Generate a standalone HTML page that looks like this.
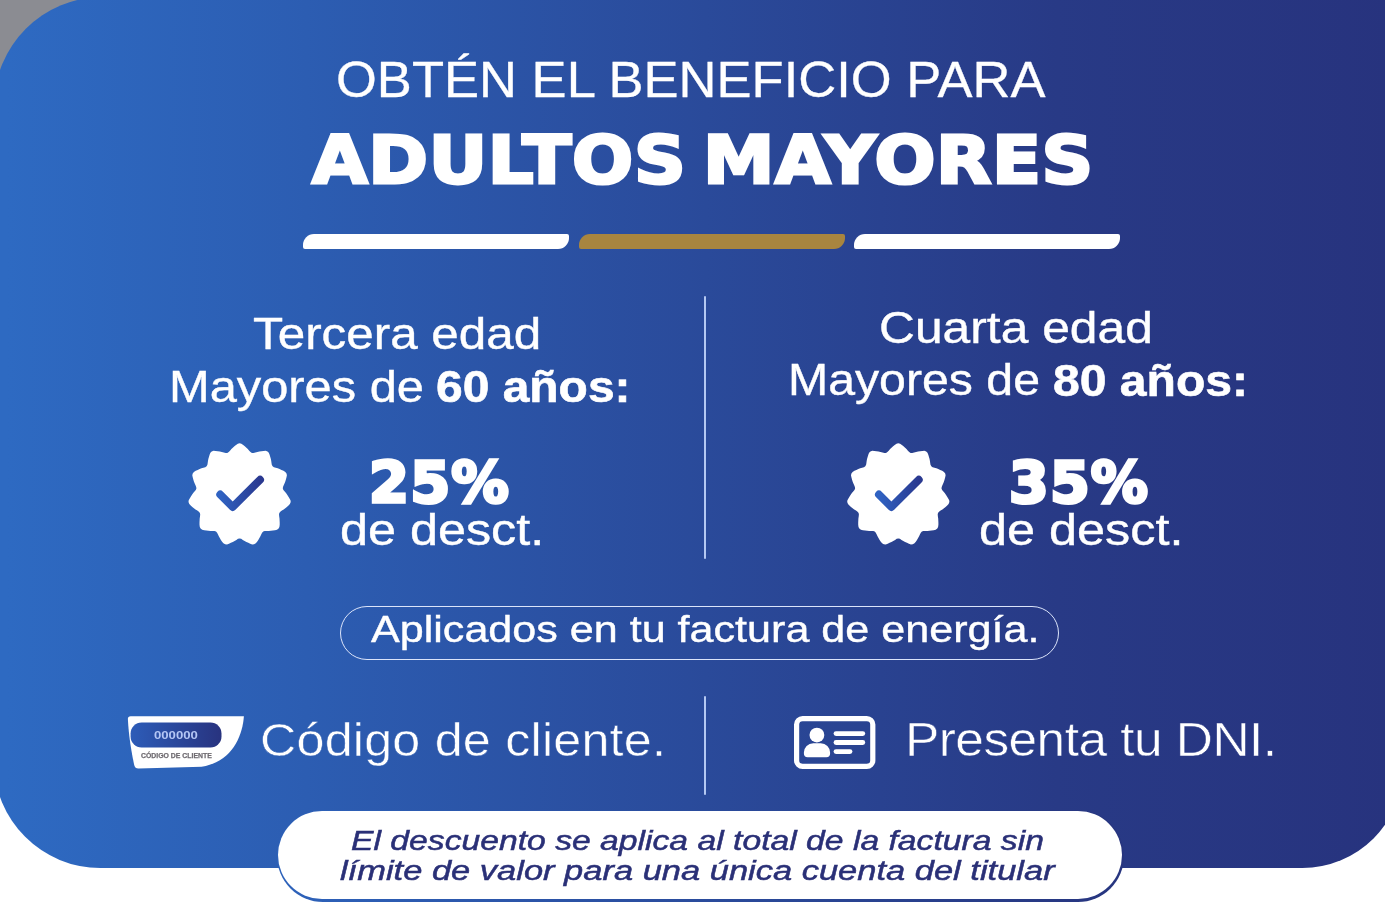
<!DOCTYPE html>
<html lang="es">
<head>
<meta charset="utf-8">
<title>Beneficio para adultos mayores</title>
<style>
html,body{margin:0;padding:0;}
body{width:1385px;height:923px;position:relative;overflow:hidden;background:#fff;font-family:'Liberation Sans', sans-serif;}
#corner{position:absolute;left:0;top:0;width:140px;height:120px;background:#8b8c92;}
#panel{position:absolute;left:-6.5px;top:-3px;width:1409.1px;height:870.7px;border-radius:108.6px 0 100.6px 106.3px;
  background:linear-gradient(90deg,#2e6ac2 12.5px,#2c5db2 312.5px,#2a4a9a 712.5px,#283a86 1062.5px,#27337e 1397.5px);}
.t{position:absolute;white-space:nowrap;line-height:1;transform-origin:0 0;color:#fff;font-family:'Liberation Sans', sans-serif;font-weight:400;}
.t.b{font-weight:700;}
.t.dv{font-family:'DejaVu Sans', 'Liberation Sans', sans-serif;}
.t.i{font-style:italic;}
.bar{position:absolute;top:234.3px;height:14.5px;width:265.7px;background:#fff;border-radius:11px 2px 11px 2px;}
.vline{position:absolute;left:704.3px;width:2px;background:#b4c8f2;border-radius:1px;}
#pill{position:absolute;left:340.4px;top:605.6px;width:718.8px;height:54px;box-sizing:border-box;border:1.9px solid #dbe4fa;border-radius:27px;}
#foot{position:absolute;left:276.9px;top:810.3px;width:846.8px;height:91.3px;box-sizing:border-box;border-radius:46px;
  background:linear-gradient(90deg,#2d62ba,#27357f);}
#foot i{position:absolute;left:0.9px;top:0.3px;right:2px;bottom:2.7px;background:#fff;border-radius:46px;}
svg{position:absolute;left:0;top:0;overflow:visible;}
</style>
</head>
<body>
<div id="corner"></div>
<div id="panel"></div>
<div id="foot"><i></i></div>

<span id="t1" class="t" style="left:335.95px;top:55.80px;font-size:49.94px;transform:scaleX(1.0521);-webkit-text-stroke:0.3px #fff;">OBTÉN EL BENEFICIO PARA</span>
<span id="t2a" class="t b dv" style="left:312.13px;top:127.68px;font-size:66.05px;transform:scaleX(1.0893);letter-spacing:0.600px;-webkit-text-stroke:3.0px #fff;">ADULTOS</span><span id="t2b" class="t b dv" style="left:703.11px;top:127.68px;font-size:66.05px;transform:scaleX(1.0862);letter-spacing:0.600px;-webkit-text-stroke:3.0px #fff;">MAYORES</span>
<div class="bar" style="left:303px"></div>
<div class="bar" style="left:579px;background:#a8853f"></div>
<div class="bar" style="left:854.2px"></div>

<span id="l1" class="t" style="left:253.08px;top:311.52px;font-size:44.47px;transform:scaleX(1.1102);-webkit-text-stroke:0.4px #fff;">Tercera edad</span>
<span id="l2a" class="t" style="left:169.34px;top:364.74px;font-size:44.33px;transform:scaleX(1.1010);-webkit-text-stroke:0.4px #fff;">Mayores de</span><span id="l2b" class="t b" style="left:436.06px;top:364.88px;font-size:44.04px;transform:scaleX(1.0890);-webkit-text-stroke:0.6px #fff;">60 años:</span>
<span id="r1" class="t" style="left:878.98px;top:306.74px;font-size:43.54px;transform:scaleX(1.1430);-webkit-text-stroke:0.4px #fff;">Cuarta edad</span>
<span id="r2a" class="t" style="left:787.68px;top:357.74px;font-size:44.33px;transform:scaleX(1.0880);-webkit-text-stroke:0.4px #fff;">Mayores de</span><span id="r2b" class="t b" style="left:1053.21px;top:358.78px;font-size:44.50px;transform:scaleX(1.0806);-webkit-text-stroke:0.6px #fff;">80 años:</span>

<div class="vline" style="top:295.6px;height:263.3px"></div>
<div class="vline" style="top:696.2px;height:98.6px"></div>

<svg width="1385" height="923" viewBox="0 0 1385 923">
 <defs>
  <linearGradient id="ck" x1="0" y1="0" x2="1" y2="0"><stop offset="0" stop-color="#2f62c2"/><stop offset="1" stop-color="#2a3990"/></linearGradient>
  <linearGradient id="cp" x1="0" y1="0" x2="1" y2="0"><stop offset="0" stop-color="#2d5cb8"/><stop offset="1" stop-color="#28337f"/></linearGradient>
 </defs>
 <g transform="translate(239.6,494.8)">
  <path d="M0.0,-51.6 L1.8,-51.1 L3.6,-49.9 L5.2,-48.5 L6.8,-47.1 L8.2,-45.7 L9.6,-44.1 L10.9,-42.7 L12.3,-41.8 L13.9,-41.8 L15.8,-42.3 L17.8,-42.9 L19.8,-43.3 L21.8,-43.6 L24.0,-43.9 L26.1,-44.0 L27.9,-43.4 L29.2,-42.0 L30.0,-40.1 L30.6,-38.0 L31.2,-36.0 L31.6,-34.0 L31.9,-31.9 L32.2,-30.0 L33.0,-28.6 L34.3,-27.6 L36.2,-27.1 L38.1,-26.5 L40.0,-25.7 L41.9,-24.9 L43.9,-24.0 L45.7,-22.9 L46.9,-21.4 L47.3,-19.6 L46.9,-17.5 L46.3,-15.4 L45.7,-13.4 L45.0,-11.5 L44.1,-9.6 L43.4,-7.8 L43.2,-6.2 L43.8,-4.7 L45.1,-3.2 L46.4,-1.7 L47.6,-0.0 L48.7,1.7 L49.9,3.6 L50.9,5.5 L51.1,7.3 L50.3,9.1 L48.9,10.6 L47.3,12.1 L45.7,13.4 L44.1,14.7 L42.3,15.8 L40.7,16.9 L39.7,18.1 L39.4,19.7 L39.6,21.6 L39.9,23.7 L40.0,25.7 L40.1,27.8 L40.1,30.0 L39.8,32.1 L39.0,33.8 L37.4,34.9 L35.4,35.4 L33.2,35.7 L31.2,36.0 L29.1,36.2 L27.1,36.2 L25.1,36.2 L23.6,36.7 L22.5,37.9 L21.6,39.6 L20.8,41.5 L19.8,43.3 L18.7,45.1 L17.5,46.9 L16.2,48.5 L14.5,49.5 L12.6,49.6 L10.6,48.9 L8.7,48.0 L6.8,47.1 L5.0,46.2 L3.2,45.1 L1.6,44.0 L0.0,43.6 L-1.6,44.0 L-3.2,45.1 L-5.0,46.2 L-6.8,47.1 L-8.7,48.0 L-10.6,48.9 L-12.6,49.6 L-14.5,49.5 L-16.2,48.5 L-17.5,46.9 L-18.7,45.1 L-19.8,43.3 L-20.8,41.5 L-21.6,39.6 L-22.5,37.9 L-23.6,36.7 L-25.1,36.2 L-27.1,36.2 L-29.1,36.2 L-31.2,36.0 L-33.2,35.7 L-35.4,35.4 L-37.4,34.9 L-39.0,33.8 L-39.8,32.1 L-40.1,30.0 L-40.1,27.8 L-40.0,25.7 L-39.9,23.7 L-39.6,21.6 L-39.4,19.7 L-39.7,18.1 L-40.7,16.9 L-42.3,15.8 L-44.1,14.7 L-45.7,13.4 L-47.3,12.1 L-48.9,10.6 L-50.3,9.1 L-51.1,7.3 L-50.9,5.5 L-49.9,3.6 L-48.7,1.7 L-47.6,0.0 L-46.4,-1.7 L-45.1,-3.2 L-43.8,-4.7 L-43.2,-6.2 L-43.4,-7.8 L-44.1,-9.6 L-45.0,-11.5 L-45.7,-13.4 L-46.3,-15.4 L-46.9,-17.5 L-47.3,-19.6 L-46.9,-21.4 L-45.7,-22.9 L-43.9,-24.0 L-41.9,-24.9 L-40.0,-25.7 L-38.1,-26.5 L-36.2,-27.1 L-34.3,-27.6 L-33.0,-28.6 L-32.2,-30.0 L-31.9,-31.9 L-31.6,-34.0 L-31.2,-36.0 L-30.6,-38.0 L-30.0,-40.1 L-29.2,-42.0 L-27.9,-43.4 L-26.1,-44.0 L-24.0,-43.9 L-21.8,-43.6 L-19.8,-43.3 L-17.8,-42.9 L-15.8,-42.3 L-13.9,-41.8 L-12.3,-41.8 L-10.9,-42.7 L-9.6,-44.1 L-8.2,-45.7 L-6.8,-47.1 L-5.2,-48.5 L-3.6,-49.9 L-1.8,-51.1Z" fill="#fff"/>
  <path d="M-19.4,-0.3 L-6.9,12.3 L20.5,-15.1" fill="none" stroke="url(#ck)" stroke-width="7.8" stroke-linecap="round" stroke-linejoin="round"/>
 </g>
 <g transform="translate(898.3,494.8)">
  <path d="M0.0,-51.6 L1.8,-51.1 L3.6,-49.9 L5.2,-48.5 L6.8,-47.1 L8.2,-45.7 L9.6,-44.1 L10.9,-42.7 L12.3,-41.8 L13.9,-41.8 L15.8,-42.3 L17.8,-42.9 L19.8,-43.3 L21.8,-43.6 L24.0,-43.9 L26.1,-44.0 L27.9,-43.4 L29.2,-42.0 L30.0,-40.1 L30.6,-38.0 L31.2,-36.0 L31.6,-34.0 L31.9,-31.9 L32.2,-30.0 L33.0,-28.6 L34.3,-27.6 L36.2,-27.1 L38.1,-26.5 L40.0,-25.7 L41.9,-24.9 L43.9,-24.0 L45.7,-22.9 L46.9,-21.4 L47.3,-19.6 L46.9,-17.5 L46.3,-15.4 L45.7,-13.4 L45.0,-11.5 L44.1,-9.6 L43.4,-7.8 L43.2,-6.2 L43.8,-4.7 L45.1,-3.2 L46.4,-1.7 L47.6,-0.0 L48.7,1.7 L49.9,3.6 L50.9,5.5 L51.1,7.3 L50.3,9.1 L48.9,10.6 L47.3,12.1 L45.7,13.4 L44.1,14.7 L42.3,15.8 L40.7,16.9 L39.7,18.1 L39.4,19.7 L39.6,21.6 L39.9,23.7 L40.0,25.7 L40.1,27.8 L40.1,30.0 L39.8,32.1 L39.0,33.8 L37.4,34.9 L35.4,35.4 L33.2,35.7 L31.2,36.0 L29.1,36.2 L27.1,36.2 L25.1,36.2 L23.6,36.7 L22.5,37.9 L21.6,39.6 L20.8,41.5 L19.8,43.3 L18.7,45.1 L17.5,46.9 L16.2,48.5 L14.5,49.5 L12.6,49.6 L10.6,48.9 L8.7,48.0 L6.8,47.1 L5.0,46.2 L3.2,45.1 L1.6,44.0 L0.0,43.6 L-1.6,44.0 L-3.2,45.1 L-5.0,46.2 L-6.8,47.1 L-8.7,48.0 L-10.6,48.9 L-12.6,49.6 L-14.5,49.5 L-16.2,48.5 L-17.5,46.9 L-18.7,45.1 L-19.8,43.3 L-20.8,41.5 L-21.6,39.6 L-22.5,37.9 L-23.6,36.7 L-25.1,36.2 L-27.1,36.2 L-29.1,36.2 L-31.2,36.0 L-33.2,35.7 L-35.4,35.4 L-37.4,34.9 L-39.0,33.8 L-39.8,32.1 L-40.1,30.0 L-40.1,27.8 L-40.0,25.7 L-39.9,23.7 L-39.6,21.6 L-39.4,19.7 L-39.7,18.1 L-40.7,16.9 L-42.3,15.8 L-44.1,14.7 L-45.7,13.4 L-47.3,12.1 L-48.9,10.6 L-50.3,9.1 L-51.1,7.3 L-50.9,5.5 L-49.9,3.6 L-48.7,1.7 L-47.6,0.0 L-46.4,-1.7 L-45.1,-3.2 L-43.8,-4.7 L-43.2,-6.2 L-43.4,-7.8 L-44.1,-9.6 L-45.0,-11.5 L-45.7,-13.4 L-46.3,-15.4 L-46.9,-17.5 L-47.3,-19.6 L-46.9,-21.4 L-45.7,-22.9 L-43.9,-24.0 L-41.9,-24.9 L-40.0,-25.7 L-38.1,-26.5 L-36.2,-27.1 L-34.3,-27.6 L-33.0,-28.6 L-32.2,-30.0 L-31.9,-31.9 L-31.6,-34.0 L-31.2,-36.0 L-30.6,-38.0 L-30.0,-40.1 L-29.2,-42.0 L-27.9,-43.4 L-26.1,-44.0 L-24.0,-43.9 L-21.8,-43.6 L-19.8,-43.3 L-17.8,-42.9 L-15.8,-42.3 L-13.9,-41.8 L-12.3,-41.8 L-10.9,-42.7 L-9.6,-44.1 L-8.2,-45.7 L-6.8,-47.1 L-5.2,-48.5 L-3.6,-49.9 L-1.8,-51.1Z" fill="#fff"/>
  <path d="M-19.4,-0.3 L-6.9,12.3 L20.5,-15.1" fill="none" stroke="url(#ck)" stroke-width="7.8" stroke-linecap="round" stroke-linejoin="round"/>
 </g>
 <!-- codigo de cliente icon -->
 <path d="M130.6,716.2 H243.9 C242.5,736 232,762 201.6,766.7 L138.6,768.5 Q135,768.6 134.2,765 C131.4,752 128.6,735 127.9,719 Q127.8,716.2 130.6,716.2Z" fill="#fff"/>
 <rect x="130.6" y="722.5" width="90.9" height="24.9" rx="11" fill="url(#cp)"/>
 <!-- DNI icon -->
 <rect x="796.6" y="718.6" width="76.2" height="47.8" rx="6" fill="none" stroke="#fff" stroke-width="5.2"/>
 <circle cx="816.9" cy="735.1" r="7.4" fill="#fff"/>
 <path d="M803.9,752.6 A9.3,9.3 0 0 1 813.2,743.3 H820.8 A9.3,9.3 0 0 1 830.1,752.6 V753.6 A3.7,3.7 0 0 1 826.4,757.3 H807.6 A3.7,3.7 0 0 1 803.9,753.6Z" fill="#fff"/>
 <g stroke="#fff" stroke-width="4.8" stroke-linecap="round">
  <line x1="836" y1="733.6" x2="862.8" y2="733.6"/>
  <line x1="836" y1="742.5" x2="862.8" y2="742.5"/>
  <line x1="836" y1="751.6" x2="850" y2="751.6"/>
 </g>
</svg>

<span id="p1" class="t b dv" style="left:369.25px;top:454.84px;font-size:56.83px;transform:scaleX(1.0103);letter-spacing:1.200px;-webkit-text-stroke:3.4px #fff;">25%</span>
<span id="d1" class="t" style="left:339.57px;top:507.61px;font-size:44.37px;transform:scaleX(1.1346);-webkit-text-stroke:0.4px #fff;">de desct.</span>
<span id="p2" class="t b dv" style="left:1009.26px;top:454.84px;font-size:56.83px;transform:scaleX(1.0043);letter-spacing:1.200px;-webkit-text-stroke:3.4px #fff;">35%</span>
<span id="d2" class="t" style="left:979.03px;top:507.61px;font-size:44.37px;transform:scaleX(1.1355);-webkit-text-stroke:0.4px #fff;">de desct.</span>

<div id="pill"></div>
<span id="ap" class="t" style="left:370.88px;top:611.56px;font-size:36.96px;transform:scaleX(1.1661);-webkit-text-stroke:0.4px #fff;">Aplicados en tu factura de energía.</span>

<span id="z0" class="t b" style="left:153.59px;top:729.77px;font-size:11.04px;transform:scaleX(1.1917);color:#b4c6f5;">000000</span>
<span id="z1" class="t b" style="left:141.01px;top:751.92px;font-size:7.29px;transform:scaleX(0.9459);color:#6f6b70;-webkit-text-stroke:0.25px #6f6b70;">CÓDIGO DE CLIENTE</span>
<span id="cc" class="t" style="left:260.17px;top:716.83px;font-size:46.92px;transform:scaleX(1.0700);letter-spacing:0.222px;-webkit-text-stroke-width:0.5px;"><span style="-webkit-text-stroke-color:#2c5cb1">Código</span> <span style="-webkit-text-stroke-color:#2b57aa">de</span> <span style="-webkit-text-stroke-color:#2b50a2">cliente.</span></span>
<span id="dn" class="t" style="left:904.63px;top:715.83px;font-size:48.03px;transform:scaleX(1.0700);letter-spacing:-0.487px;-webkit-text-stroke-width:0.5px;"><span style="-webkit-text-stroke-color:#283d89">Presenta</span> <span style="-webkit-text-stroke-color:#283884">tu</span> <span style="-webkit-text-stroke-color:#273682">DNI.</span></span>

<span id="f1" class="t i" style="left:350.70px;top:826.59px;font-size:27.67px;transform:scaleX(1.2181);color:#2a3077;-webkit-text-stroke:0.5px #2a3077;">El descuento se aplica al total de la factura sin</span>
<span id="f2" class="t i" style="left:340.09px;top:856.81px;font-size:27.72px;transform:scaleX(1.2434);color:#2a3077;-webkit-text-stroke:0.5px #2a3077;">límite de valor para una única cuenta del titular</span>
</body>
</html>
